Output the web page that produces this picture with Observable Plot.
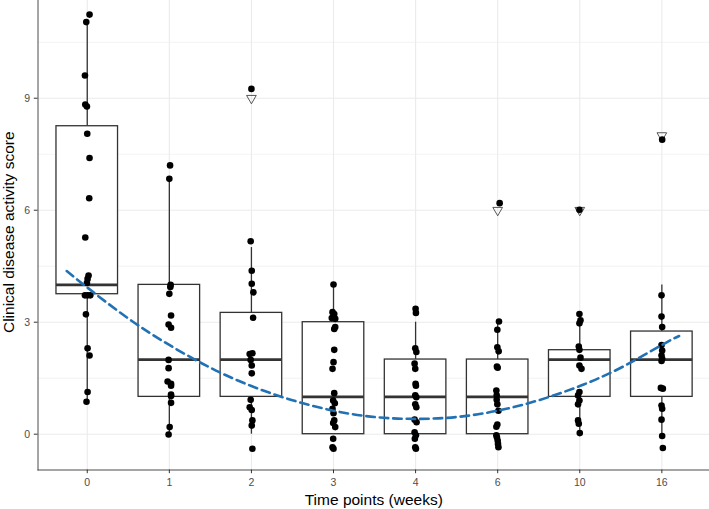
<!DOCTYPE html>
<html>
<head>
<meta charset="utf-8">
<script src="https://cdn.jsdelivr.net/npm/d3@7"></script>
<script src="https://cdn.jsdelivr.net/npm/@observablehq/plot@0.6"></script>
<style>
  html, body { margin: 0; padding: 0; background: #fff; }
  svg { font-family: "Liberation Sans", Arial, sans-serif; }
</style>
</head>
<body>
<div id="chart"></div>
<script>
// Categories (time points, weeks)
const weeks = ["0", "1", "2", "3", "4", "6", "10", "16"];

// Box statistics
const whiskerLo = [0.9, 0, 0, 0, 0, 0, 0, 0];
const q1 =        [3.75, 1.0, 1.0, 0, 0, 0, 1.0, 1.0];
const median =    [4.0, 2.0, 2.0, 1.0, 1.0, 1.0, 2.0, 2.0];
const q3 =        [8.25, 4.0, 3.25, 3.0, 2.0, 2.0, 2.25, 2.75];
const whiskerHi = [11.04, 6.85, 5.0, 4.0, 3.0, 3.0, 3.25, 4.0];

// Outliers (open down-triangles)
const outlierWeek = ["2", "6", "10", "16"];
const outlierValue = [9, 6, 6, 8];

// Jittered observations per time point
const scores = {
  "0":  [11.24, 11.04, 9.61, 8.83, 8.78, 8.05, 7.40, 6.32, 5.27, 4.25, 4.16, 4.05, 3.72, 3.72, 3.72, 3.21, 2.30, 2.11, 1.13, 0.87],
  "1":  [7.20, 6.84, 4.0, 3.94, 3.76, 3.18, 2.94, 2.85, 1.99, 1.77, 1.41, 1.35, 1.30, 1.06, 1.02, 0.84, 0.19, -0.01],
  "2":  [9.25, 5.17, 4.38, 4.03, 3.80, 3.12, 2.17, 2.15, 1.99, 1.84, 1.63, 0.92, 0.72, 0.65, 0.37, 0.23, -0.39],
  "3":  [4.01, 3.27, 3.22, 3.11, 3.09, 2.87, 2.82, 2.26, 1.93, 1.75, 1.10, 0.90, 0.83, 0.68, 0.56, 0.37, 0.30, 0.19, -0.12, -0.35, -0.39],
  "4":  [3.36, 3.25, 2.30, 2.20, 1.89, 1.75, 1.35, 1.30, 1.04, 0.99, 0.80, 0.72, 0.39, 0.32, 0.05, -0.03, -0.12, -0.35, -0.39],
  "6":  [6.19, 3.02, 2.80, 2.33, 2.22, 1.81, 1.78, 1.17, 1.04, 0.92, 0.80, 0.63, 0.26, 0.20, -0.03, -0.08, -0.17, -0.26, -0.35],
  "10": [6.01, 3.22, 3.05, 2.97, 2.35, 2.26, 2.05, 1.84, 1.75, 1.13, 1.04, 0.90, 0.80, 0.37, 0.28, 0.03],
  "16": [7.89, 3.72, 3.15, 2.87, 2.39, 2.24, 2.11, 2.02, 1.96, 1.24, 1.22, 0.77, 0.68, 0.39, -0.05, -0.37]
};
const jitter = {
  "0":  [0.028, -0.012, -0.028, -0.024, -0.004, 0, 0.028, 0.024, -0.024, 0.016, 0.004, -0.004, -0.028, 0.004, 0.037, -0.016, 0.004, 0.028, 0.004, -0.009],
  "1":  [0.009, 0, 0.016, 0.012, 0, 0.021, -0.009, 0.021, -0.009, -0.009, -0.021, 0.021, 0.021, 0.021, 0.021, 0.021, 0.004, -0.009],
  "2":  [0, -0.009, 0.004, 0.004, 0.024, 0.021, 0.012, -0.021, -0.009, 0.004, 0.004, -0.009, -0.021, 0.004, 0.012, 0.004, 0.012],
  "3":  [0, -0.012, 0.009, -0.021, 0.021, 0.021, 0.009, 0.009, 0, -0.012, 0.009, -0.004, 0.016, -0.012, 0, 0.009, -0.004, 0.021, -0.004, -0.012, 0],
  "4":  [0, 0.004, -0.004, 0.009, -0.012, -0.004, 0, 0.004, -0.004, 0.009, -0.004, 0.009, -0.012, 0.012, -0.012, 0.004, -0.009, -0.004, 0.004],
  "6":  [0.024, 0.016, -0.004, -0.004, 0.012, -0.009, 0, -0.016, -0.012, -0.012, -0.004, 0.009, -0.004, -0.016, -0.016, -0.009, 0, 0.004, 0.009],
  "10": [-0.004, -0.004, 0.009, -0.004, -0.012, -0.004, 0.009, -0.004, 0.021, -0.004, -0.021, -0.004, -0.021, -0.021, -0.012, 0],
  "16": [0.004, -0.004, -0.004, 0.004, -0.004, 0.004, -0.004, 0.004, -0.004, -0.012, 0.012, -0.004, 0.004, -0.004, 0.004, 0.012]
};

// Dashed fitted curve (x in category positions)
const fitX = [-0.25, 0, 0.5, 1, 1.5, 2, 2.5, 3, 3.5, 4, 4.5, 5, 5.5, 6, 6.5, 7, 7.21];
const fitY = [4.37, 3.93, 3.10, 2.39, 1.78, 1.29, 0.91, 0.63, 0.46, 0.41, 0.46, 0.63, 0.91, 1.29, 1.78, 2.39, 2.63];

// Build tables
const boxes = weeks.map((w, i) => ({i, lo: whiskerLo[i], q1: q1[i], med: median[i], q3: q3[i], hi: whiskerHi[i]}));
const points = weeks.flatMap((w, i) => scores[w].map((v, k) => ({x: i + jitter[w][k], y: v})));
const outliers = outlierWeek.map((w, k) => ({x: weeks.indexOf(w), y: outlierValue[k]}));
const fit = fitX.map((x, k) => ({x, y: fitY[k]}));

const half = 0.375;
const dark = "#333333";

const chart = Plot.plot({
  width: 709,
  height: 509,
  marginLeft: 37.5,
  marginRight: 0,
  marginTop: 0,
  marginBottom: 39.5,
  style: {fontFamily: "Liberation Sans, Arial, sans-serif", background: "#fff"},
  x: {type: "linear", domain: [-0.6, 7.6], range: [37.5, 710.6]},
  y: {domain: [-0.959, 11.618]},
  marks: [
    Plot.gridY([1.5, 4.5, 7.5, 10.5], {stroke: "#ebebeb", strokeOpacity: 1, strokeWidth: 0.6}),
    Plot.gridY([0, 3, 6, 9], {stroke: "#ebebeb", strokeOpacity: 1, strokeWidth: 1.1}),
    Plot.gridX(d3.range(weeks.length), {stroke: "#ebebeb", strokeOpacity: 1, strokeWidth: 1.1}),
    Plot.ruleX(boxes, {x: "i", y1: "q3", y2: "hi", stroke: dark, strokeWidth: 1.3}),
    Plot.ruleX(boxes, {x: "i", y1: "lo", y2: "q1", stroke: dark, strokeWidth: 1.3}),
    Plot.rect(boxes, {x1: d => d.i - half, x2: d => d.i + half, y1: "q1", y2: "q3", fill: "white", stroke: dark, strokeWidth: 1.3}),
    Plot.ruleY(boxes, {y: "med", x1: d => d.i - half, x2: d => d.i + half, stroke: dark, strokeWidth: 2.8}),
    Plot.dot(outliers, {x: "x", y: "y", symbol: "triangle", rotate: 180, r: 3.6, stroke: "#444", strokeWidth: 0.9, fill: "none"}),
    Plot.dot(points, {x: "x", y: "y", r: 3.3, fill: "black", stroke: "none"}),
    Plot.line(fit, {x: "x", y: "y", curve: "natural", stroke: "#2171b5", strokeWidth: 2.6, strokeDasharray: "8.5,5"}),
    Plot.frame({anchor: "left", stroke: "#4d4d4d", strokeWidth: 1}),
    Plot.frame({anchor: "bottom", stroke: "#4d4d4d", strokeWidth: 1}),
    Plot.axisY({ticks: [0, 3, 6, 9], tickSize: 3.7, tickPadding: 4.3, fontSize: 10.5, stroke: dark, fill: "#4d4d4d", label: null}),
    Plot.axisX({ticks: d3.range(weeks.length), tickFormat: i => weeks[i], tickSize: 3.7, tickPadding: 5, fontSize: 10.5, stroke: dark, fill: "#4d4d4d", label: null}),
    Plot.text(["Time points (weeks)"], {frameAnchor: "bottom", textAnchor: "middle", lineAnchor: "middle", dy: 29.8, fontSize: 15.5, fill: "black"}),
    Plot.text(["Clinical disease activity score"], {frameAnchor: "left", textAnchor: "middle", lineAnchor: "middle", dx: -29.2, dy: -3, rotate: -90, fontSize: 15.5, fill: "black"})
  ]
});
document.getElementById("chart").appendChild(chart);
</script>
</body>
</html>
